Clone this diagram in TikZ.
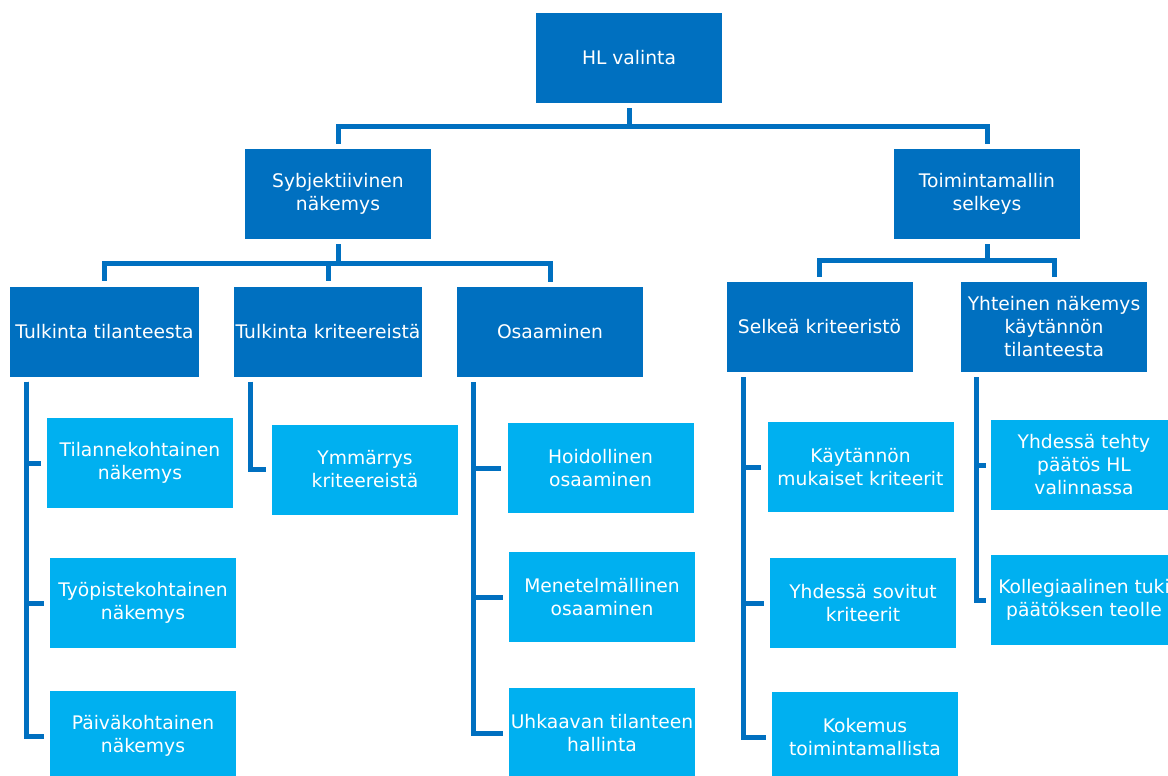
\documentclass[tikz,border=0pt]{standalone}
\usepackage{fontspec}
\setmainfont{DejaVu Sans}
\definecolor{darkbox}{HTML}{0070C0}
\definecolor{lightbox}{HTML}{00B0F0}
\tikzset{
  box/.style={minimum width=186, minimum height=90, inner sep=0pt, align=center,
    text=white, font=\fontsize{18.7}{23}\selectfont},
  mainbox/.style={box, fill=darkbox},
  subbox/.style={box, fill=lightbox},
  conn/.style={draw=darkbox, line width=5pt, shorten <=5pt, shorten >=5pt},
}
\begin{document}
\begin{tikzpicture}[x=1pt, y=-1pt]
\useasboundingbox (0,0) rectangle (1168,776);
\clip (0,0) rectangle (1168,776);
% Top level
\node [mainbox] (hl) at (629,58) {HL valinta};
% Second level
\node [mainbox] (syb) at (338,194) {Sybjektiivinen\\näkemys};
\node [mainbox] (toim) at (987,194) {Toimintamallin\\selkeys};
% Third level
\node [mainbox, minimum width=189] (tt) at (104.5,331.5) {Tulkinta tilanteesta};
\node [mainbox, minimum width=188] (tk) at (328,331.5) {Tulkinta kriteereistä};
\node [mainbox] (osa) at (550,332) {Osaaminen};
\node [mainbox] (sel) at (819.5,327) {Selkeä kriteeristö};
\node [mainbox] (yht) at (1054,327) {Yhteinen näkemys\\käytännön\\tilanteesta};
% Leaves under Tulkinta tilanteesta
\node [subbox] (tt1) at (140,463) {Tilannekohtainen\\näkemys};
\node [subbox] (tt2) at (143,603) {Työpistekohtainen\\näkemys};
\node [subbox] (tt3) at (143,736) {Päiväkohtainen\\näkemys};
% Leaf under Tulkinta kriteereistä
\node [subbox] (tk1) at (365,469.5) {Ymmärrys\\kriteereistä};
% Leaves under Osaaminen
\node [subbox] (osa1) at (600.5,468) {Hoidollinen\\osaaminen};
\node [subbox] (osa2) at (602,597) {Menetelmällinen\\osaaminen};
\node [subbox] (osa3) at (602,733) {Uhkaavan tilanteen\\hallinta};
% Leaves under Selkeä kriteeristö
\node [subbox] (sel1) at (860.5,467) {Käytännön\\mukaiset kriteerit};
\node [subbox] (sel2) at (863,603) {Yhdessä sovitut\\kriteerit};
\node [subbox] (sel3) at (865,737) {Kokemus\\toimintamallista};
% Leaves under Yhteinen näkemys
\node [subbox] (yht1) at (1084,465) {Yhdessä tehty\\päätös HL\\valinnassa};
\node [subbox] (yht2) at (1084,600) {Kollegiaalinen tuki\\päätöksen teolle};
% Tree connectors
\draw [conn] (hl.south) -- ++(0,23) -| (syb.north);
\draw [conn] (hl.south) -- ++(0,23) -| (toim.north);
\foreach \c in {tt,tk,osa}
  \draw [conn] (syb.south) -- ++(0,24) -| (\c.north);
\foreach \c in {sel,yht}
  \draw [conn] (toim.south) -- ++(0,21) -| (\c.north);
% Side rails
\foreach \p/\c in {tt/tt1,tt/tt2,tt/tt3,tk/tk1,osa/osa1,osa/osa2,osa/osa3,sel/sel1,sel/sel2,sel/sel3}
  \draw [conn, shorten >=6pt] ([xshift=17pt]\p.south west) |- (\c.west);
\foreach \c in {yht1,yht2}
  \draw [conn] ([xshift=16pt]yht.south west) |- (\c.west);
\end{tikzpicture}
\end{document}
